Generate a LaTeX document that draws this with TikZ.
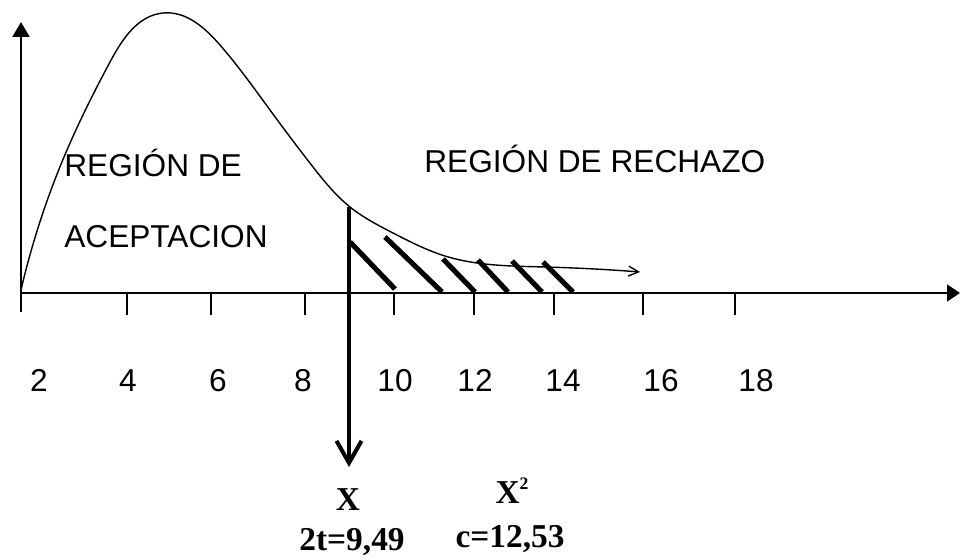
\documentclass[tikz,border=0pt]{standalone}
\usepackage{fontspec}
\setmainfont{Liberation Sans}
\newfontfamily\valuefont{Liberation Serif}
\usetikzlibrary{arrows.meta}
\usetikzlibrary{hobby}

\begin{document}
\begin{tikzpicture}[x=0.02cm, y=-0.02cm,
    regionlabel/.style={font=\fontsize{18}{21}\selectfont, inner sep=0pt, anchor=base west},
    ticklabel/.style={font=\fontsize{18}{21}\selectfont, inner sep=0pt, anchor=base},
    valuelabel/.style={font=\valuefont\bfseries\fontsize{19}{22}\selectfont, inner sep=0pt, anchor=base}]

      \useasboundingbox (0,0) rectangle (960,560);

      \draw[line width=1.1pt, -{Triangle[length=0.26cm, width=0.34cm]}] (20,293) -- (960,293);
      \draw[line width=1.1pt, -{Triangle[length=0.3cm, width=0.34cm]}] (21,312) -- (21,22);

      \foreach \x in {127,211,305,394,474,554,643,735}
        \draw[line width=0.85pt] (\x,292) -- (\x,315);

      \foreach \x/\n in {39/2,128/4,218/6,303/8,395/10,475/12,563/14,661/16,756/18}
        \node[ticklabel] (tick\n) at (\x,392) {\n};

      \draw[line width=0.8pt, use Hobby shortcut, -{Straight Barb[length=0.2cm, width=0.2cm]}]
        (21,290) .. (67,150) .. (110,62) .. (163,13) .. (220,45) .. (270,110)
        .. (313,167) .. (350,207) .. (393,233) .. (445,256) .. (545,267) .. (640,272);

      \coordinate (cut) at (349,207);
      \coordinate (xval) at (349,467);
      \draw[line width=2.3pt, -{Straight Barb[length=0.44cm, width=0.5cm]}] (cut) -- (xval);

      \foreach \a/\b/\c/\d in {350/242/395/289, 385/237/442/292, 443/259/475/292,
                               478/260/508/292, 512/261/542/292, 543/262/573/292}
        \draw[line width=2.9pt] (\a,\b) -- (\c,\d);

      \node[regionlabel] (acep1) at (64,177) {REGIÓN DE};
      \node[regionlabel] (acep2) at (64,248) {ACEPTACION};
      \node[regionlabel] (rech) at (424,173) {REGIÓN DE RECHAZO};

      \node[valuelabel] (chi) at (348,510) {X};
      \node[valuelabel] (tval) at (352,550) {2t=9,49};
      \node[valuelabel] (chisq) at (512,503) {X\raisebox{0.4em}{\fontsize{10}{11}\selectfont 2}};
      \node[valuelabel] (cval) at (510,547) {c=12,53};
    \end{tikzpicture}
\end{document}
